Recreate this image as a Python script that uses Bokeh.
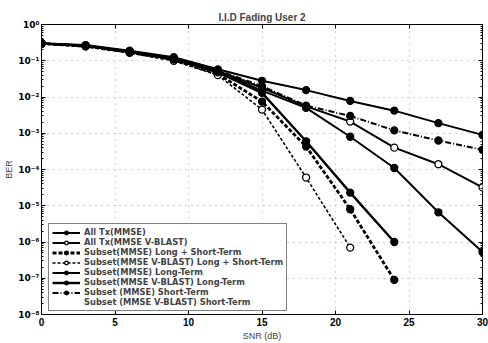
from bokeh.plotting import figure
from bokeh.models import FixedTicker, CustomJSTickFormatter, Legend, LegendItem, LogAxis, LinearAxis
from bokeh.embed import file_html
from bokeh.resources import INLINE

# ---- data ----
snr = [0, 3, 6, 9, 12, 15, 18, 21, 24, 27, 30]
ber_alltx_mmse = [0.30, 0.27, 0.19, 0.125, 0.058, 0.028, 0.0155, 0.0078, 0.0042, 0.0019, 0.0009]
ber_alltx_vblast = [0.30, 0.26, 0.18, 0.115, 0.052, 0.018, 0.0055, 0.0021, 0.0004, 0.00014, 0.000032]
snr_sub_mmse_ls = [0, 3, 6, 9, 12, 15, 18, 21, 24]
ber_sub_mmse_ls = [0.30, 0.25, 0.17, 0.105, 0.043, 0.0075, 0.00043, 8e-6, 9e-8]
snr_sub_vblast_ls = [0, 3, 6, 9, 12, 15, 18, 21]
ber_sub_vblast_ls = [0.30, 0.25, 0.165, 0.10, 0.040, 0.0045, 6e-5, 7e-7]
ber_sub_mmse_lt = [0.30, 0.26, 0.18, 0.112, 0.050, 0.015, 0.0050, 0.0008, 0.00011, 6.6e-6, 5.3e-7]
snr_sub_vblast_lt = [0, 3, 6, 9, 12, 15, 18, 21, 24]
ber_sub_vblast_lt = [0.30, 0.26, 0.175, 0.11, 0.048, 0.013, 0.0006, 2.3e-5, 1e-6]
ber_sub_mmse_st = [0.30, 0.26, 0.18, 0.118, 0.054, 0.020, 0.0058, 0.0030, 0.0012, 0.00063, 0.00035]
snr_sub_vblast_st = []
ber_sub_vblast_st = []

x_ticks = [0, 5, 10, 15, 20, 25, 30]
y_decades = [-8, -7, -6, -5, -4, -3, -2, -1, 0]

FONT = "Liberation Sans"
LFONT = "DejaVu Sans"

p = figure(width=488, height=343, x_range=(0, 30), y_range=(1e-8, 1), y_axis_type="log",
           output_backend="svg", toolbar_location=None,
           min_border_left=41, min_border_right=6, min_border_top=24, min_border_bottom=27,
           background_fill_color="white", border_fill_color="white")

p.title.text = "I.I.D Fading User 2"
p.title.align = "center"
p.title.text_font = FONT
p.title.text_font_size = "10px"
p.title.text_font_style = "bold"
p.title.offset = 0
p.title.standoff = 4

p.outline_line_color = "black"
p.outline_line_width = 1

y_major = [10.0 ** d for d in y_decades]
y_minor = [m * 10.0 ** d for d in y_decades[:-1] for m in range(2, 10)]
yfmt = CustomJSTickFormatter(code="""
const sup = {'-':'\u207b','0':'\u2070','1':'\u00b9','2':'\u00b2','3':'\u00b3','4':'\u2074','5':'\u2075','6':'\u2076','7':'\u2077','8':'\u2078','9':'\u2079'};
const e = String(Math.round(Math.log10(tick)));
return '10' + e.split('').map(c => sup[c]).join('');
""")
blank = CustomJSTickFormatter(code="return '';")

def style_axis(ax):
    ax.axis_line_color = None
    ax.major_tick_in = 4
    ax.major_tick_out = 0
    ax.minor_tick_in = 2
    ax.minor_tick_out = 0
    ax.major_tick_line_color = "black"
    ax.minor_tick_line_color = "black"
    ax.major_label_text_font = FONT
    ax.major_label_text_font_size = "10px"
    ax.major_label_text_font_style = "bold"
    ax.major_label_text_color = "black"
    ax.major_label_standoff = 3
    ax.axis_label_text_font = FONT
    ax.axis_label_text_font_size = "9px"
    ax.axis_label_text_font_style = "normal"
    ax.axis_label_standoff = 2

xa = p.xaxis[0]
xa.ticker = FixedTicker(ticks=x_ticks)
xa.axis_label = "SNR (dB)"
style_axis(xa)
ya = p.yaxis[0]
ya.ticker = FixedTicker(ticks=y_major, minor_ticks=y_minor)
ya.formatter = yfmt
ya.axis_label = "BER"
style_axis(ya)
ya.major_label_text_font = LFONT
ya.major_label_text_font_size = "9px"
ya.major_label_standoff = 2
ya.axis_label_standoff = 1

ra = LogAxis(ticker=FixedTicker(ticks=y_major, minor_ticks=y_minor), formatter=blank)
style_axis(ra)
ra.major_label_text_font_size = "0px"
ra.major_label_standoff = 0
p.add_layout(ra, "right")
ta = LinearAxis(ticker=FixedTicker(ticks=x_ticks), formatter=blank)
style_axis(ta)
ta.major_label_text_font_size = "0px"
ta.major_label_standoff = 0
p.add_layout(ta, "above")

p.xgrid.ticker = FixedTicker(ticks=x_ticks)
p.ygrid.ticker = FixedTicker(ticks=y_major)
for g in (p.xgrid, p.ygrid):
    g.grid_line_color = "#555555"
    g.grid_line_dash = "1 5"
    g.grid_line_alpha = 0.55
    g.grid_line_width = 1

def series(xs, ys, dash, fill, lw=2.0, size=7):
    r1 = p.line(xs, ys, line_color="black", line_width=lw, line_dash=dash)
    r2 = p.scatter(xs, ys, marker="circle", size=size, line_color="black", line_width=1.3,
                   fill_color=fill)
    return [r1, r2]

items = []
items.append(LegendItem(label="All Tx(MMSE)", renderers=series(snr, ber_alltx_mmse, "solid", "black")))
items.append(LegendItem(label="All Tx(MMSE V-BLAST)", renderers=series(snr, ber_alltx_vblast, "solid", "white")))
items.append(LegendItem(label="Subset(MMSE) Long + Short-Term",
                        renderers=series(snr_sub_mmse_ls, ber_sub_mmse_ls, "4 2", "black", lw=2.8)))
items.append(LegendItem(label="Subset(MMSE V-BLAST) Long + Short-Term",
                        renderers=series(snr_sub_vblast_ls, ber_sub_vblast_ls, "3 2", "white", lw=1.6)))
items.append(LegendItem(label="Subset(MMSE) Long-Term", renderers=series(snr, ber_sub_mmse_lt, "solid", "black")))
items.append(LegendItem(label="Subset(MMSE V-BLAST) Long-Term",
                        renderers=series(snr_sub_vblast_lt, ber_sub_vblast_lt, "solid", "black", lw=2.4)))
items.append(LegendItem(label="Subset (MMSE) Short-Term",
                        renderers=series(snr, ber_sub_mmse_st, "6 2 1 2", "black")))
r_st = p.line(snr_sub_vblast_st, ber_sub_vblast_st, line_color="black", line_alpha=0)
items.append(LegendItem(label="Subset (MMSE V-BLAST) Short-Term", renderers=[r_st]))

leg = Legend(items=items, location=(7, 3))
leg.label_text_font = LFONT
leg.label_text_font_size = "8.3px"
leg.label_text_font_style = "bold"
leg.label_height = 9
leg.glyph_height = 9
leg.glyph_width = 28
leg.label_standoff = 4
leg.spacing = 0
leg.padding = 3
leg.margin = 0
leg.border_line_color = "black"
leg.border_line_width = 1
leg.background_fill_color = "white"
leg.background_fill_alpha = 1
p.add_layout(leg, "center")

open("out.html", "w").write(file_html(p, INLINE))
